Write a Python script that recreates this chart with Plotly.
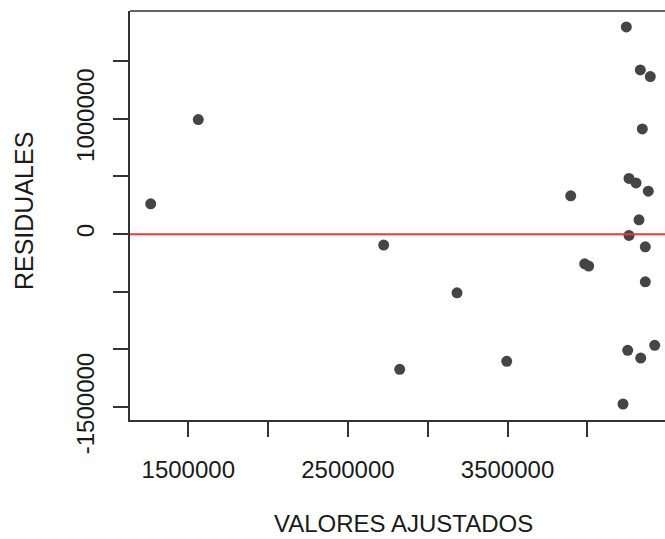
import plotly.graph_objects as go

# Fitted values and residuals of the regression model
valores_ajustados = [
    1264400, 1562700, 2724300, 2824600, 3183600, 3495000, 3896000, 3983700,
    4008800, 4223700, 4244400, 4253200, 4261300, 4305200, 4261300, 4323900,
    4332100, 4334600, 4344600, 4363400, 4363400, 4382200, 4394800, 4422300,
]
residuales = [
    262600, 993900, -95300, -1172400, -508700, -1103100, 331900, -257400,
    -277300, -1473100, 1796400, -1007800, 482700, 444500, -11300, 123900,
    1423700, -1074500, 912500, -110100, -413300, 372600, 1366600, -964500,
]

x_ticks = [1500000, 2000000, 2500000, 3000000, 3500000, 4000000, 4500000]
x_labels = ["1500000", "", "2500000", "", "3500000", "", ""]
y_ticks = [-1500000, -1000000, -500000, 0, 500000, 1000000, 1500000]
y_labels = ["-1500000", "", "", "0", "", "1000000", ""]

FONT = "Liberation Sans, Arial, sans-serif"
INK = "#1a1a1a"
AXIS = "#333333"

fig = go.Figure()
fig.add_trace(go.Scatter(
    x=valores_ajustados, y=residuales, mode="markers",
    marker=dict(size=11, color="#454545", line=dict(width=0)),
    showlegend=False, hoverinfo="x+y",
))

# zero reference line
fig.add_shape(type="line", xref="paper", x0=0, x1=1, yref="y", y0=0, y1=0,
              line=dict(color="#f03a3a", width=2))
# top edge of the plot box
fig.add_shape(type="line", xref="paper", x0=0, x1=1, yref="paper", y0=1, y1=1,
              line=dict(color=AXIS, width=1.5))

fig.add_annotation(text="VALORES AJUSTADOS", xref="paper", yref="paper",
                   x=0.512, y=-0.252, xanchor="center", yanchor="middle",
                   showarrow=False, font=dict(family=FONT, size=24, color=INK))
fig.add_annotation(text="RESIDUALES", xref="paper", yref="paper",
                   x=-0.198, y=0.511, xanchor="center", yanchor="middle",
                   textangle=-90, showarrow=False,
                   font=dict(family=FONT, size=25, color=INK))

fig.update_layout(
    width=665, height=539,
    margin=dict(l=130, r=0, t=11, b=119),
    plot_bgcolor="white", paper_bgcolor="white",
    font=dict(family=FONT, color=INK),
    xaxis=dict(
        range=[1134700, 4486800], tickvals=x_ticks, ticktext=x_labels,
        showgrid=False, zeroline=False, showline=True, linecolor=AXIS,
        linewidth=1.5, ticks="outside", ticklen=15, tickwidth=1.5,
        tickcolor=AXIS, tickfont=dict(family=FONT, size=24, color=INK),
        ticklabelstandoff=12,
    ),
    yaxis=dict(
        range=[-1611800, 1935000], tickvals=y_ticks, ticktext=y_labels,
        showgrid=False, zeroline=False, showline=True, linecolor=AXIS,
        linewidth=1.5, ticks="outside", ticklen=15, tickwidth=1.5,
        tickcolor=AXIS, tickfont=dict(family=FONT, size=24, color=INK),
        tickangle=-90, ticklabelstandoff=10,
    ),
)

fig.write_html("out.html")
